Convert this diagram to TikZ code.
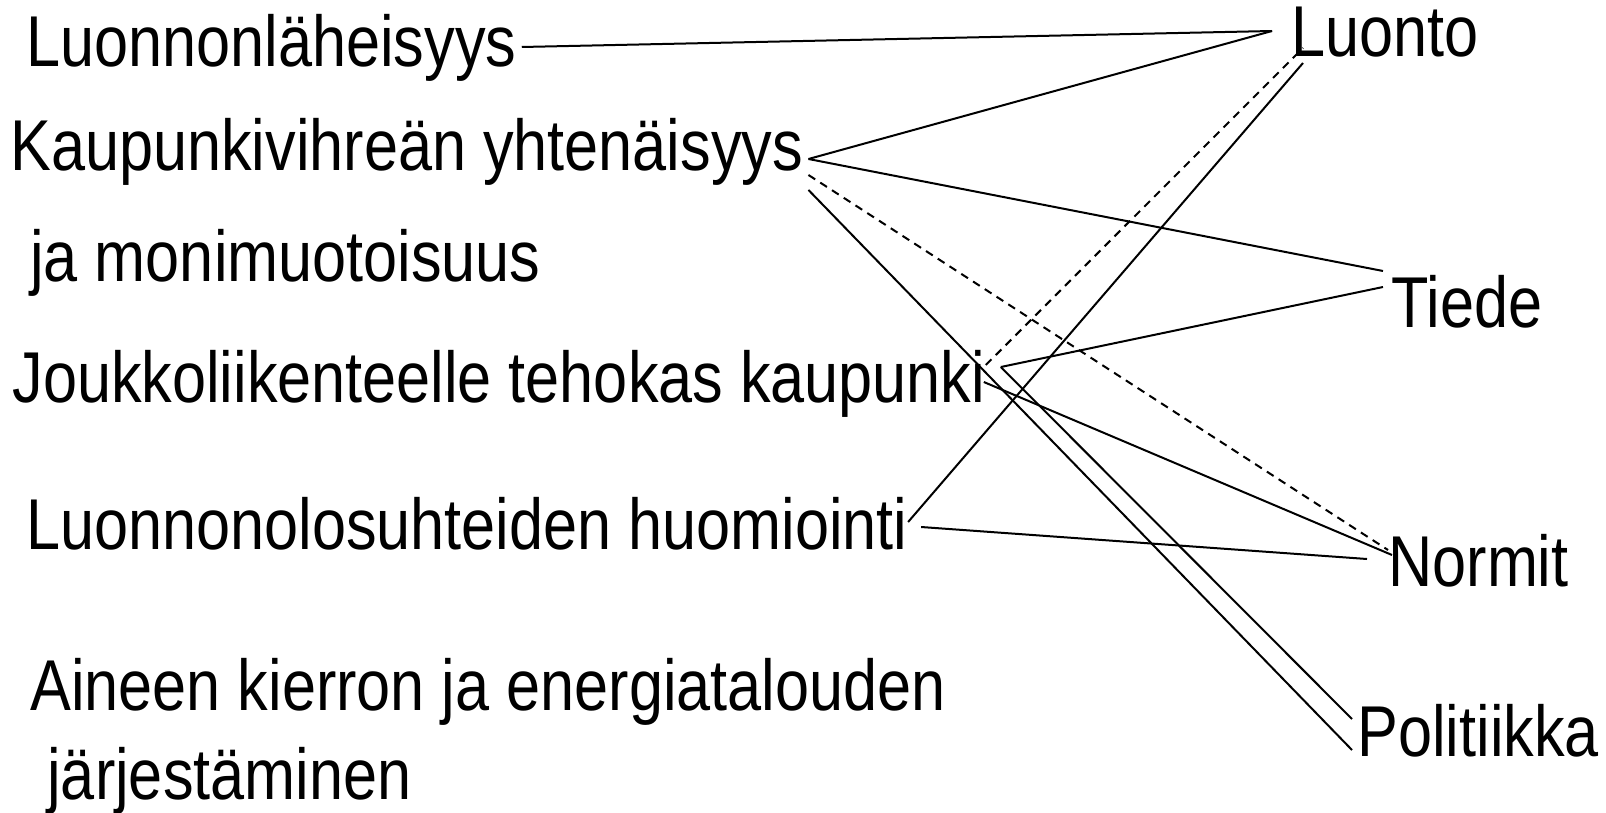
\documentclass[tikz,border=0pt]{standalone}
\usepackage{fontspec}
\setmainfont[FakeStretch=0.85]{Liberation Sans}
\begin{document}
\begin{tikzpicture}[x=0.5pt,y=-0.5pt,
    lbl/.style={anchor=base west,inner sep=0pt,font=\fontsize{36}{40}\selectfont},
    link/.style={line width=1pt},
    dlink/.style={link,dash pattern=on 4pt off 3pt}]
\useasboundingbox (0,0) rectangle (1606,813);
% vasen sarake
\node[lbl] (lh) at (26,67) {Luonnonläheisyys};
\node[lbl] (kv) at (10,170) {Kaupunkivihreän yhtenäisyys};
\node[lbl] (jm) at (30,281) {ja monimuotoisuus};
\node[lbl] (jl) at (12,402) {Joukkoliikenteelle tehokas kaupunki};
\node[lbl] (lo) at (26,549) {Luonnonolosuhteiden huomiointi};
\node[lbl] (ai) at (30,710) {Aineen kierron ja energiatalouden};
\node[lbl] (jr) at (47,799) {järjestäminen};
% oikea sarake
\node[lbl] (lu) at (1291,57) {Luonto};
\node[lbl] (ti) at (1391,327) {Tiede};
\node[lbl] (no) at (1388,586) {Normit};
\node[lbl] (po) at (1357,756) {Politiikka};
% yhteydet
\draw[link] ([shift={(5,-20)}]lh.base east) -- ([shift={(-19,-26)}]lu.base west);
\draw[link] ([shift={(5,-11)}]kv.base east) -- ([shift={(-19,-26)}]lu.base west);
\draw[link] ([shift={(5,-11)}]kv.base east) -- ([shift={(-8,-56)}]ti.base west);
\draw[dlink] ([shift={(5,5)}]kv.base east) -- ([shift={(0,-36)}]no.base west);
\draw[link] ([shift={(5,20)}]kv.base east) -- ([shift={(-5,-6)}]po.base west);
\draw[dlink] ([shift={(0,-37)}]jl.base east) -- ([shift={(12,-9)}]lu.base west);
\draw[link] ([shift={(15,-35)}]jl.base east) -- ([shift={(-8,-40)}]ti.base west);
\draw[link] ([shift={(15,-35)}]jl.base east) -- ([shift={(-5,-37)}]po.base west);
\draw[link] ([shift={(-2,-20)}]jl.base east) -- ([shift={(4,-31)}]no.base west);
\draw[link] ([shift={(0,-27)}]lo.base east) -- ([shift={(12,6)}]lu.base west);
\draw[link] ([shift={(13,-22)}]lo.base east) -- ([shift={(-21,-27)}]no.base west);
\end{tikzpicture}
\end{document}
